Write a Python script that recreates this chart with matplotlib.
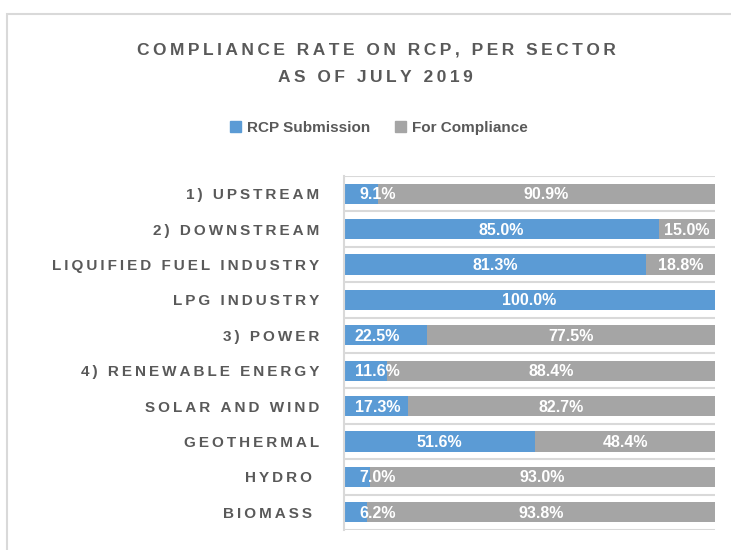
import matplotlib.pyplot as plt
from matplotlib.patches import Rectangle, Patch

# Compliance rate data per sector
sectors = ["1) UPSTREAM", "2) DOWNSTREAM", "LIQUIFIED FUEL INDUSTRY", "LPG INDUSTRY",
           "3) POWER", "4) RENEWABLE ENERGY", "SOLAR AND WIND", "GEOTHERMAL",
           "HYDRO ", "BIOMASS "]
rcp_submission = [9.1, 85.0, 81.3, 100.0, 22.5, 11.6, 17.3, 51.6, 7.0, 6.2]
for_compliance = [90.9, 15.0, 18.8, 0.0, 77.5, 88.4, 82.7, 48.4, 93.0, 93.8]
series_names = ["RCP Submission", "For Compliance"]

BLUE = "#5B9BD5"
GRAY = "#A5A5A5"
TEXT = "#595959"
FONT = ["Liberation Sans", "DejaVu Sans"]


def spaced(s, gap="\u2009"):
    # widen the tracking of a label by putting thin spaces between the letters
    return gap.join(s)


plt.rcParams["font.family"] = FONT

fig = plt.figure(figsize=(7.31, 5.50), dpi=100)

# chart frame
fig.patches.append(Rectangle((7 / 731, -0.05), 1.0, 1 - 14 / 550 + 0.05,
                             transform=fig.transFigure, fill=False,
                             edgecolor="#D9D9D9", linewidth=1.5))

ax = fig.add_axes([344 / 731, 1 - 530 / 550, (715 - 344) / 731, (530 - 176) / 550])

y = list(range(len(sectors)))
ax.barh(y, rcp_submission, height=0.57, color=BLUE, label=series_names[0])
ax.barh(y, for_compliance, left=rcp_submission, height=0.57, color=GRAY,
        label=series_names[1])

for i, (a, b) in enumerate(zip(rcp_submission, for_compliance)):
    # short segments get their label nudged in from the axis
    xa = a / 2 if a > 25 else 9.0
    ax.text(xa, i + 0.03, f"{a:.1f}%", ha="center", va="center",
            color="white", fontsize=11.5, fontweight="bold")
    if b > 0:
        ax.text(a + b / 2, i + 0.03, f"{b:.1f}%", ha="center", va="center",
                color="white", fontsize=11.5, fontweight="bold")

# separators between categories
for k in range(len(sectors) + 1):
    ax.axhline(k - 0.5, color="#D9D9D9", linewidth=1.5, zorder=0)

ax.set_xlim(0, 100)
ax.set_ylim(len(sectors) - 0.5, -0.5)
ax.set_xticks([])
ax.set_yticks(y)
ax.set_yticklabels([spaced(s) for s in sectors], fontsize=11, fontweight="bold",
                   color=TEXT)
ax.tick_params(axis="y", length=0, pad=18)
for side in ["top", "right", "bottom"]:
    ax.spines[side].set_visible(False)
ax.spines["left"].set_color("#D9D9D9")
ax.spines["left"].set_linewidth(1.5)

fig.text(376 / 731, 1 - 50 / 550, spaced("COMPLIANCE RATE ON RCP, PER SECTOR"),
         ha="center", va="center", fontsize=12.5, fontweight="bold", color=TEXT)
fig.text(375 / 731, 1 - 78 / 550, spaced("AS OF JULY 2019"),
         ha="center", va="center", fontsize=12.5, fontweight="bold", color=TEXT)

handles = [Patch(color=BLUE), Patch(color=GRAY)]
fig.legend(handles, series_names, loc="center", bbox_to_anchor=(379 / 731, 1 - 128 / 550),
           ncol=2, frameon=False, handlelength=0.7, handleheight=0.7, handletextpad=0.4,
           columnspacing=1.6, prop={"family": FONT, "weight": "bold", "size": 11},
           labelcolor=TEXT)

fig.savefig("out.png", dpi=100, facecolor="white")
